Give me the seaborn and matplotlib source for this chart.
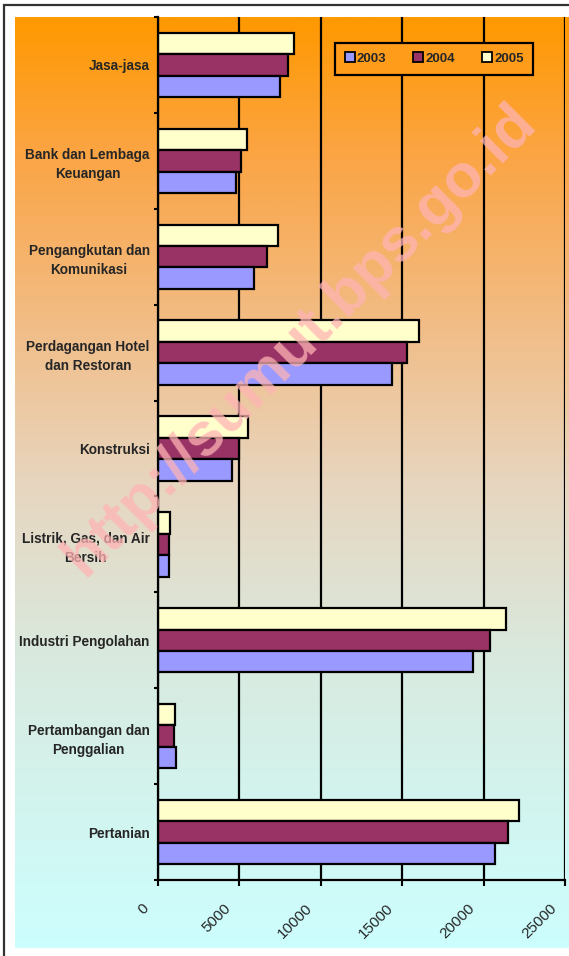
import numpy as np
import pandas as pd
import seaborn as sns
import matplotlib.pyplot as plt
from matplotlib.colors import LinearSegmentedColormap
from matplotlib.lines import Line2D
from matplotlib.patches import Rectangle
from matplotlib.transforms import ScaledTranslation

sns.set_style("ticks")
plt.rcParams["font.family"] = ["Liberation Sans", "DejaVu Sans"]

categories = [
    "Jasa-jasa",
    "Bank dan Lembaga\nKeuangan",
    "Pengangkutan dan\nKomunikasi",
    "Perdagangan Hotel\ndan Restoran",
    "Konstruksi",
    "Listrik, Gas, dan Air\nBersih",
    "Industri Pengolahan",
    "Pertambangan dan\nPenggalian",
    "Pertanian",
]
years = ["2003", "2004", "2005"]
v2003 = [7480, 4770, 5900, 14370, 4550, 660, 19330, 1130, 20730]
v2004 = [7960, 5090, 6680, 15270, 4950, 680, 20370, 985, 21480]
v2005 = [8330, 5440, 7400, 16030, 5520, 710, 21350, 1070, 22200]
colors = {"2003": "#9999ff", "2004": "#993366", "2005": "#ffffcc"}
xticks = [0, 5000, 10000, 15000, 20000, 25000]

df = pd.DataFrame({
    "kategori": categories * 3,
    "tahun": ["2003"] * 9 + ["2004"] * 9 + ["2005"] * 9,
    "nilai": v2003 + v2004 + v2005,
})

W, H = 569, 956
fig = plt.figure(figsize=(W / 100, H / 100), dpi=100)

# gradient background (orange -> light cyan)
bg = fig.add_axes([15 / W, 0.0, 1 - 15 / W, 1 - 17 / H], zorder=-2)
stops = [
    (0.00, (255 / 255, 153 / 255, 0 / 255)),
    (0.15, (251 / 255, 165 / 255, 70 / 255)),
    (0.35, (240 / 255, 192 / 255, 142 / 255)),
    (0.50, (231 / 255, 214 / 255, 192 / 255)),
    (0.70, (216 / 255, 235 / 255, 225 / 255)),
    (1.00, (204 / 255, 255 / 255, 255 / 255)),
]
cmap = LinearSegmentedColormap.from_list("bg", stops)
grad = np.linspace(0, 1, 512).reshape(-1, 1)
bg.imshow(grad, aspect="auto", cmap=cmap, extent=[0, 1, 0, 1])
bg.set_axis_off()

# white strip at bottom below the gradient
fig.add_artist(Rectangle((0, 0), 1, 8 / H, transform=fig.transFigure,
                         facecolor="white", edgecolor="none", zorder=-1))
# outer frame
fig.add_artist(Rectangle((4 / W, -0.1), 1.2, 1.1 - 5 / H, transform=fig.transFigure,
                         fill=False, edgecolor="#333333", linewidth=1.6))

ax = fig.add_axes([158 / W, 1 - 880 / H, (565 - 158) / W, (880 - 17) / H])
ax.set_facecolor("none")

sns.barplot(
    data=df, x="nilai", y="kategori", hue="tahun",
    hue_order=["2005", "2004", "2003"], palette=colors,
    orient="h", width=0.67, saturation=1, edgecolor="black",
    linewidth=1.6, legend=False, ax=ax,
)

ax.set_xlim(0, 25000)
ax.set_ylim(8.5, -0.5)
ax.set_xticks(xticks)
ax.set_xticklabels([str(t) for t in xticks], rotation=45, ha="right",
                   va="center", rotation_mode="anchor", fontsize=11)
ax.tick_params(axis="x", length=4, width=1.5, pad=15, color="black")
shift = ScaledTranslation(-11 / 100, 0, fig.dpi_scale_trans)
for lab in ax.get_xticklabels():
    lab.set_transform(lab.get_transform() + shift)
ax.set_yticks(np.arange(-0.5, 9, 1), minor=True)
ax.tick_params(axis="y", which="minor", length=3, width=1.5, color="black")
ax.tick_params(axis="y", which="major", length=0, pad=6)
for lab in ax.get_yticklabels():
    lab.set_fontweight("bold")
    lab.set_fontsize(9.8)
    lab.set_multialignment("center")
    lab.set_linespacing(1.45)
ax.set_xlabel("")
ax.set_ylabel("")
ax.grid(axis="x", color="black", linewidth=1.6)
ax.set_axisbelow(True)
for side in ["top", "right"]:
    ax.spines[side].set_visible(False)
for side in ["left", "bottom"]:
    ax.spines[side].set_color("black")
    ax.spines[side].set_linewidth(1.6)

handles = [
    Line2D([], [], marker="s", linestyle="none", markersize=6.5,
           markerfacecolor=colors[y], markeredgecolor="black",
           markeredgewidth=1.3, label=y)
    for y in years
]
leg = ax.legend(
    handles=handles, ncol=3, loc="center",
    bbox_to_anchor=((434 - 158) / 407, 1 - (59 - 17) / 863),
    frameon=True, fancybox=False, handlelength=0.8, handletextpad=0.15,
    columnspacing=2.0, borderpad=0.72, borderaxespad=0,
    prop={"weight": "bold", "size": 9.5},
)
frame = leg.get_frame()
frame.set_facecolor((1, 0.61, 0.1))
frame.set_edgecolor("black")
frame.set_linewidth(1.6)
frame.set_alpha(None)

# watermark
fig.text(300 / W, 1 - 340 / H, "http://sumut.bps.go.id", rotation=45,
         ha="center", va="center", fontsize=44, fontweight="bold",
         color="#ffb4b4", alpha=0.75, zorder=10)

fig.savefig("out.png", dpi=100)
